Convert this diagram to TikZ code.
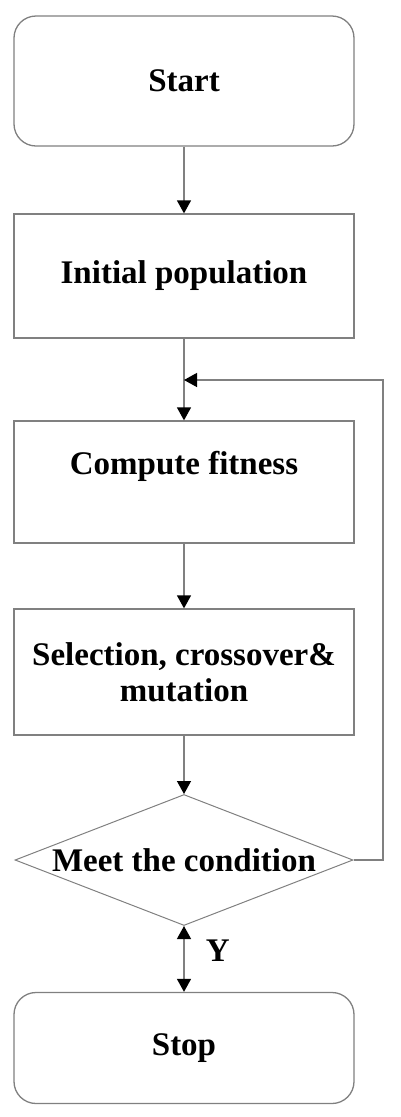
\documentclass[tikz,border=0pt]{standalone}
\usepackage{fontspec}
\setmainfont{Liberation Serif}
\usetikzlibrary{shapes.geometric,arrows.meta}

\tikzset{
	block/.style={draw=gray,line width=1.3pt,minimum width=340pt,inner sep=0pt,align=center,font=\fontsize{33}{36}\selectfont\bfseries},
	termbox/.style={block,rounded corners=22pt},
	decision/.style={draw=gray,line width=1pt,diamond,inner sep=0pt,minimum width=338pt,minimum height=131pt},
	flow/.style={draw=gray,line width=1.3pt,>={Triangle[width=14pt,length=13pt,color=black]},->},
}

\begin{document}
\begin{tikzpicture}[x=1pt,y=-1pt]
		\useasboundingbox (0,0) rectangle (400,1117);

		\node[termbox,minimum height=130pt] (start) at (184,81) {Start};
		\node[block,minimum height=124pt] (init) at (184,276) {Initial population};
		\node[block,minimum height=122pt] (fit) at (184,482) {Compute fitness\\[2pt]\mbox{}};
		\node[block,minimum height=126pt] (sel) at (184,672) {Selection, crossover\&\\mutation};
		\node[decision] (cond) at (184,860) {};
		\node[font=\fontsize{33}{36}\selectfont\bfseries] (condtext) at (cond) {Meet the condition};
		\node[termbox,minimum height=111pt] (stop) at (184,1048) {Stop};

		\coordinate (join) at (184,380);
		\coordinate (back) at (383,860);

		\draw[flow] (start) -- (init);
		\draw[flow] (init) -- (fit);
		\draw[flow] (fit) -- (sel);
		\draw[flow] (sel) -- (cond);
%	loop back when the condition fails
		\draw[flow] (cond.east) -- (back) |- (join);
		\draw[flow,<->] (cond.south) -- node[pos=0.37,right=18pt,font=\fontsize{33}{36}\selectfont\bfseries] (yes) {Y} (stop.north);
	\end{tikzpicture}
\end{document}
